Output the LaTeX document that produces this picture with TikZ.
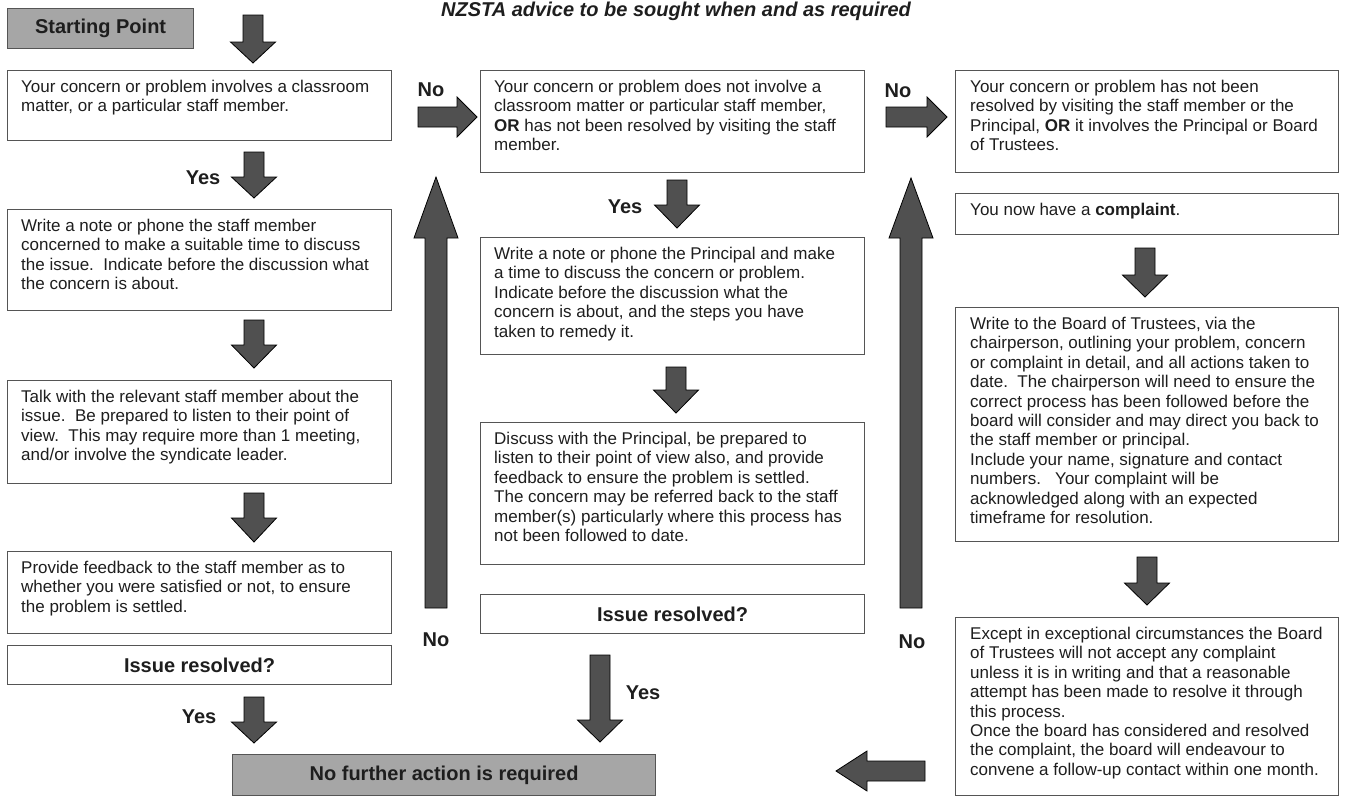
\documentclass[tikz,border=0pt]{standalone}
\usepackage{fontspec}
\setmainfont{Liberation Sans}
\definecolor{boxc}{RGB}{85,85,85}
\definecolor{grayfill}{RGB}{166,166,166}
\definecolor{arrowfill}{RGB}{80,80,80}
\definecolor{txtc}{RGB}{30,30,30}
% block arrows: #1 centre, #2 start, #3 head base, #4 tip, #5 name
\newcommand\dnarrow[5]{%
  \filldraw[blockarrow] (#1-10,#2) -- (#1+10,#2) -- (#1+10,#3) -- (#1+22.5,#3) -- (#1,#4) -- (#1-22.5,#3) -- (#1-10,#3) -- cycle;
  \coordinate (#5) at (#1,#4);}
\newcommand\uparrowblk[5]{%
  \filldraw[blockarrow] (#1-11,#2) -- (#1+11,#2) -- (#1+11,#3) -- (#1+22,#3) -- (#1,#4) -- (#1-22,#3) -- (#1-11,#3) -- cycle;
  \coordinate (#5) at (#1,#4);}
\newcommand\rtarrow[5]{%
  \filldraw[blockarrow] (#2,#1-10) -- (#2,#1+10) -- (#3,#1+10) -- (#3,#1+20) -- (#4,#1) -- (#3,#1-20) -- (#3,#1-10) -- cycle;
  \coordinate (#5) at (#4,#1);}
\begin{document}
\begin{tikzpicture}[x=1pt,y=-1pt,
  box/.style={draw=boxc, line width=1.2pt, fill=white, inner sep=0pt, anchor=north west},
  graybox/.style={draw=boxc, line width=1.2pt, fill=grayfill, inner sep=0pt, anchor=north west,
    font=\bfseries\fontsize{20}{24}\selectfont, text=txtc},
  qbox/.style={box, font=\bfseries\fontsize{20}{24}\selectfont, text=txtc},
  txt/.style={anchor=north west, inner sep=0pt, align=left, font=\fontsize{17}{19.4}\selectfont, text=txtc},
  lbl/.style={font=\bfseries\fontsize{20}{24}\selectfont, text=txtc, inner sep=0pt},
  blockarrow/.style={fill=arrowfill, draw=black, line width=0.8pt, line join=miter}]
\useasboundingbox[fill=white] (0,0) rectangle (1349,796);

% header
\node[anchor=base, inner sep=0pt, font=\bfseries\itshape\fontsize{20}{24}\selectfont, text=txtc] (hdr) at (676,16) {NZSTA advice to be sought when and as required};

% start / end
\node[graybox, minimum width=186pt, minimum height=40pt] (start) at (7,8) {Starting Point};
\node[graybox, minimum width=423pt, minimum height=41pt] (finish) at (232,754) {No further action is required};

% column 1
\node[box, minimum width=384pt, minimum height=70pt] (c1b1) at (7,70) {};
\node[txt] (c1t1) at ([xshift=14pt,yshift=-10pt]c1b1.north west) {Your concern or problem involves a classroom\\matter, or a particular staff member.};
\node[box, minimum width=384pt, minimum height=101pt] (c1b2) at (7,209) {};
\node[txt] (c1t2) at ([xshift=14pt,yshift=-10pt]c1b2.north west) {Write a note or phone the staff member\\concerned to make a suitable time to discuss\\the issue.\ \ Indicate before the discussion what\\the concern is about.};
\node[box, minimum width=384pt, minimum height=103pt] (c1b3) at (7,380) {};
\node[txt] (c1t3) at ([xshift=14pt,yshift=-10pt]c1b3.north west) {Talk with the relevant staff member about the\\issue.\ \ Be prepared to listen to their point of\\view.\ \ This may require more than 1 meeting,\\and/or involve the syndicate leader.};
\node[box, minimum width=384pt, minimum height=82pt] (c1b4) at (7,551) {};
\node[txt] (c1t4) at ([xshift=14pt,yshift=-10pt]c1b4.north west) {Provide feedback to the staff member as to\\whether you were satisfied or not, to ensure\\the problem is settled.};
\node[qbox, minimum width=384pt, minimum height=39pt] (c1q) at (7,645) {Issue resolved?};

% column 2
\node[box, minimum width=384pt, minimum height=102pt] (c2b1) at (480,70) {};
\node[txt] (c2t1) at ([xshift=14pt,yshift=-10pt]c2b1.north west) {Your concern or problem does not involve a\\classroom matter or particular staff member,\\\textbf{OR} has not been resolved by visiting the staff\\member.};
\node[box, minimum width=384pt, minimum height=117pt] (c2b2) at (480,237) {};
\node[txt] (c2t2) at ([xshift=14pt,yshift=-10pt]c2b2.north west) {Write a note or phone the Principal and make\\a time to discuss the concern or problem.\\Indicate before the discussion what the\\concern is about, and the steps you have\\taken to remedy it.};
\node[box, minimum width=384pt, minimum height=142pt] (c2b3) at (480,422) {};
\node[txt] (c2t3) at ([xshift=14pt,yshift=-10pt]c2b3.north west) {Discuss with the Principal, be prepared to\\listen to their point of view also, and provide\\feedback to ensure the problem is settled.\\The concern may be referred back to the staff\\member(s) particularly where this process has\\not been followed to date.};
\node[qbox, minimum width=384pt, minimum height=39pt] (c2q) at (480,594) {Issue resolved?};

% column 3
\node[box, minimum width=383pt, minimum height=102pt] (c3b1) at (955,70) {};
\node[txt] (c3t1) at ([xshift=15pt,yshift=-10pt]c3b1.north west) {Your concern or problem has not been\\resolved by visiting the staff member or the\\Principal, \textbf{OR} it involves the Principal or Board\\of Trustees.};
\node[box, minimum width=383pt, minimum height=41pt] (c3b2) at (955,193) {};
\node[txt] (c3t2) at ([xshift=15pt,yshift=-10pt]c3b2.north west) {You now have a \textbf{complaint}.};
\node[box, minimum width=383pt, minimum height=234pt] (c3b3) at (955,307) {};
\node[txt] (c3t3) at ([xshift=15pt,yshift=-10pt]c3b3.north west) {Write to the Board of Trustees, via the\\chairperson, outlining your problem, concern\\or complaint in detail, and all actions taken to\\date.\ \ The chairperson will need to ensure the\\correct process has been followed before the\\board will consider and may direct you back to\\the staff member or principal.\\Include your name, signature and contact\\numbers.\ \ \ Your complaint will be\\acknowledged along with an expected\\timeframe for resolution.};
\node[box, minimum width=383pt, minimum height=178pt] (c3b4) at (955,617) {};
\node[txt] (c3t4) at ([xshift=15pt,yshift=-10pt]c3b4.north west) {Except in exceptional circumstances the Board\\of Trustees will not accept any complaint\\unless it is in writing and that a reasonable\\attempt has been made to resolve it through\\this process.\\Once the board has considered and resolved\\the complaint, the board will endeavour to\\convene a follow-up contact within one month.};

% arrows
\dnarrow{253}{15}{42}{63}{a0}
\dnarrow{254}{152}{177}{198}{a1}
\dnarrow{254}{320}{345}{368}{a2}
\dnarrow{254}{493}{518}{542}{a3}
\dnarrow{254}{697}{722}{743}{a4}
\dnarrow{677}{180}{205}{228}{a5}
\dnarrow{676}{367}{390}{413}{a6}
\dnarrow{600}{655}{720}{742}{a7}
\dnarrow{1145}{248}{275}{297}{a8}
\dnarrow{1147}{557}{583}{605}{a9}
\uparrowblk{436}{608}{238}{177}{u1}
\uparrowblk{911}{608}{238}{178}{u2}
\rtarrow{117}{418}{457}{477}{r1}
\rtarrow{117}{886}{927}{947}{r2}
\rtarrow{771}{925}{867}{836}{l1}

% labels
\node[lbl] (no1) at (431,90) {No};
\node[lbl] (no2) at (898,91) {No};
\node[lbl] (no3) at (436,640) {No};
\node[lbl] (no4) at (912,642) {No};
\node[lbl] (yes1) at (203,178) {Yes};
\node[lbl] (yes2) at (199,717) {Yes};
\node[lbl] (yes3) at (625,207) {Yes};
\node[lbl] (yes4) at (643,693) {Yes};
\end{tikzpicture}
\end{document}
